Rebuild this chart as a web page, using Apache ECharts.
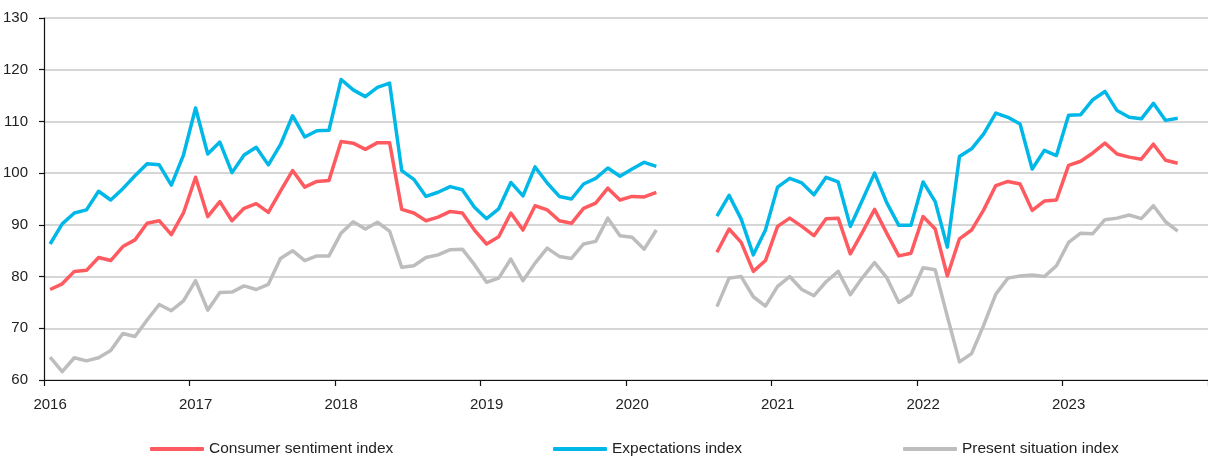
<!DOCTYPE html>
<html>
<head>
<meta charset="utf-8">
<script src="https://cdn.jsdelivr.net/npm/echarts@6/dist/echarts.min.js"></script>
<style>
html,body{margin:0;padding:0;background:#fff;}
#chart{width:1208px;height:459px;}
</style>
</head>
<body>
<div id="chart"></div>
<script>
// Monthly categories Jan 2016 .. Dec 2023
const years = [2016, 2017, 2018, 2019, 2020, 2021, 2022, 2023];
const months = [];
years.forEach(y => { for (let m = 1; m <= 12; m++) months.push(y + '-' + (m < 10 ? '0' + m : m)); });

const yTicks = [60, 70, 80, 90, 100, 110, 120, 130];

// Consumer sentiment index (null = no data)
const consumer = [
  77.5, 78.6, 81.0, 81.2, 83.7, 83.1, 85.8, 87.1, 90.3, 90.8, 88.1, 92.3,
  99.2, 91.6, 94.5, 90.8, 93.2, 94.1, 92.4, 96.5, 100.5, 97.3, 98.4, 98.6,
  106.1, 105.8, 104.6, 105.9, 105.9, 93.0, 92.3, 90.8, 91.5, 92.6, 92.3, 89.0,
  86.3, 87.7, 92.3, 89.0, 93.7, 92.9, 90.8, 90.3, 93.2, 94.2, 97.1, 94.8,
  95.5, 95.4, 96.3, null, null, null, null, 84.7, 89.2, 86.6, 81.0, 83.1,
  89.7, 91.3, 89.7, 87.9, 91.2, 91.3, 84.4, 88.6, 93.0, 88.4, 84.0, 84.5,
  91.6, 89.2, 80.1, 87.3, 89.0, 92.9, 97.6, 98.4, 97.9, 92.8, 94.6, 94.8,
  101.5, 102.3, 103.9, 105.8, 103.7, 103.1, 102.7, 105.6, 102.5, 101.9, null, null
];

// Expectations index
const expectations = [
  86.3, 90.2, 92.3, 92.9, 96.5, 94.8, 97.0, 99.5, 101.8, 101.6, 97.7, 103.5,
  112.6, 103.7, 106.0, 100.1, 103.5, 105.0, 101.6, 105.5, 111.1, 107.0, 108.2, 108.3,
  118.1, 116.1, 114.8, 116.6, 117.4, 100.5, 98.8, 95.5, 96.3, 97.4, 96.8, 93.4,
  91.2, 93.1, 98.2, 95.6, 101.2, 98.1, 95.5, 95.0, 97.9, 99.0, 101.0, 99.4,
  100.8, 102.1, 101.3, null, null, null, null, 91.7, 95.7, 91.1, 84.2, 89.0,
  97.3, 99.0, 98.1, 95.8, 99.2, 98.3, 89.7, 94.8, 100.0, 94.3, 89.9, 89.9,
  98.3, 94.5, 85.7, 103.2, 104.7, 107.6, 111.6, 110.8, 109.5, 100.8, 104.4, 103.4,
  111.2, 111.3, 114.2, 115.8, 112.1, 110.8, 110.5, 113.5, 110.2, 110.6, null, null
];

// Present situation index
const present = [
  64.4, 61.6, 64.3, 63.7, 64.3, 65.7, 69.0, 68.4, 71.6, 74.6, 73.4, 75.3,
  79.2, 73.5, 76.9, 77.0, 78.2, 77.5, 78.5, 83.5, 85.0, 83.1, 84.0, 84.0,
  88.4, 90.6, 89.2, 90.5, 88.8, 81.8, 82.1, 83.7, 84.2, 85.2, 85.3, 82.3,
  78.9, 79.7, 83.4, 79.2, 82.6, 85.5, 83.9, 83.5, 86.3, 86.8, 91.3, 87.9,
  87.6, 85.3, 89.0, null, null, null, null, 74.2, 79.7, 80.0, 76.1, 74.3,
  78.1, 80.0, 77.5, 76.3, 79.0, 81.0, 76.5, 79.8, 82.7, 79.8, 75.0, 76.5,
  81.7, 81.3, 72.3, 63.5, 65.1, 70.6, 76.6, 79.7, 80.1, 80.3, 80.0, 82.1,
  86.6, 88.4, 88.3, 91.0, 91.3, 91.9, 91.2, 93.7, 90.6, 88.8, null, null
];

const seriesNames = ['Consumer sentiment index', 'Expectations index', 'Present situation index'];
const colors = ['#ff5a5f', '#00b8e8', '#bdbdbd'];
const FONT = '"Liberation Sans", Arial, sans-serif';

const chart = echarts.init(document.getElementById('chart'), null, {renderer: 'canvas'});
const isJan = (idx) => idx % 12 === 0;

const legendLefts = [150, 553, 903];
const legends = seriesNames.map((n, i) => ({
  data: [n],
  left: legendLefts[i],
  top: 441,
  icon: 'roundRect',
  itemWidth: 54,
  itemHeight: 4,
  itemGap: 0,
  padding: 0,
  textStyle: {fontFamily: FONT, fontSize: 15.5, color: '#222'}
}));

chart.setOption({
  animation: false,
  color: colors,
  legend: legends,
  grid: {left: 44, top: 18, width: 1168, height: 362, containLabel: false},
  xAxis: {
    type: 'category',
    data: months,
    boundaryGap: true,
    axisLine: {lineStyle: {color: '#111', width: 1.2}},
    axisTick: {show: true, interval: isJan, length: 6, lineStyle: {color: '#111', width: 1.2}},
    axisLabel: {
      interval: isJan,
      formatter: (v) => v.slice(0, 4),
      fontFamily: FONT, fontSize: 15, color: '#222', margin: 17
    },
    splitLine: {show: false}
  },
  yAxis: {
    type: 'value',
    min: yTicks[0],
    max: yTicks[yTicks.length - 1],
    interval: 10,
    axisLine: {show: true, lineStyle: {color: '#111', width: 1.2}},
    axisTick: {show: true, length: 5, lineStyle: {color: '#111', width: 1.2}},
    axisLabel: {fontFamily: FONT, fontSize: 15, color: '#222', margin: 16},
    splitLine: {lineStyle: {color: '#c8c8c8', width: 1.5}}
  },
  series: [
    {name: seriesNames[0], type: 'line', data: consumer, symbol: 'none', connectNulls: false, lineStyle: {width: 3.5, color: colors[0], join: 'round'}, z: 3},
    {name: seriesNames[1], type: 'line', data: expectations, symbol: 'none', connectNulls: false, lineStyle: {width: 3.5, color: colors[1], join: 'round'}, z: 3},
    {name: seriesNames[2], type: 'line', data: present, symbol: 'none', connectNulls: false, lineStyle: {width: 3.5, color: colors[2], join: 'round'}, z: 3}
  ]
});
</script>
</body>
</html>
